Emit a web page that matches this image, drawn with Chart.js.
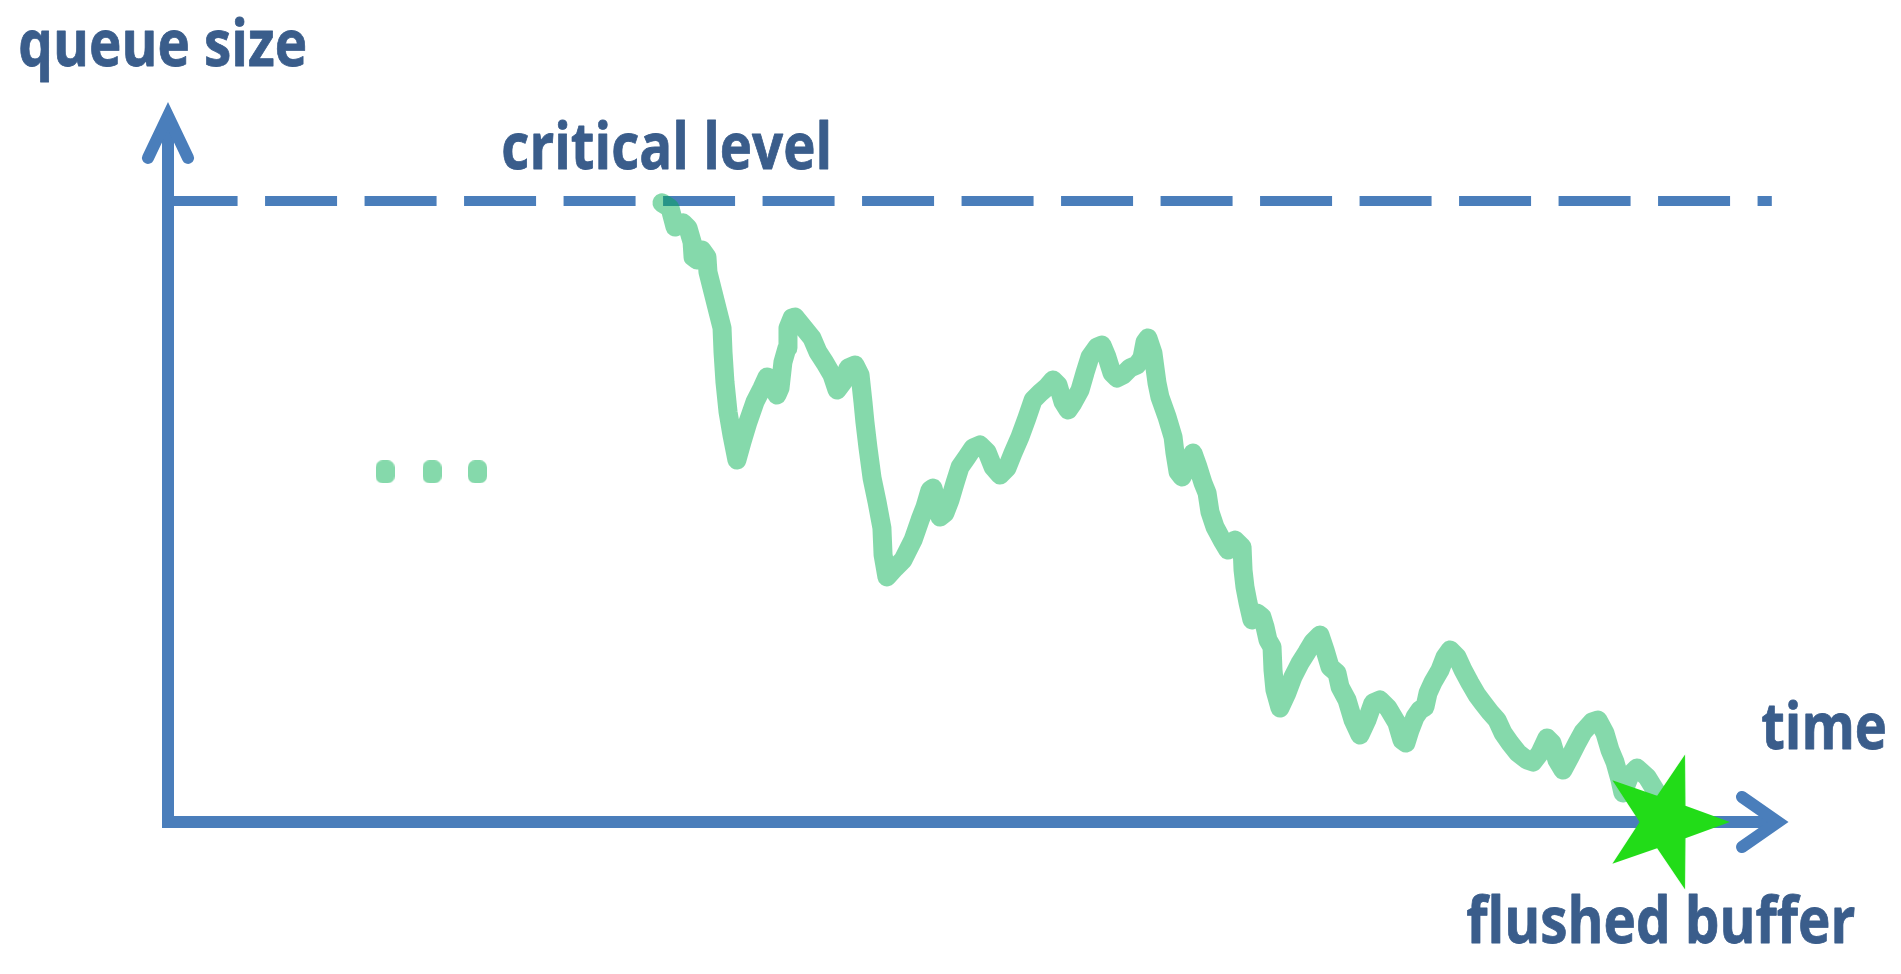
<!DOCTYPE html>
<html><head><meta charset="utf-8">
<script src="https://cdn.jsdelivr.net/npm/chart.js@4.4.1/dist/chart.umd.min.js"></script>
<style>html,body{margin:0;padding:0;background:#fff;overflow:hidden}canvas{display:block}</style>
</head><body>
<canvas id="c" width="1901" height="974"></canvas>
<script>
// ---- data ----
const timeValues = [30.49,30.99,31.30,31.79,32.10,32.35,32.41,32.65,32.96,33.27,
33.33,33.64,33.95,34.20,34.26,34.38,34.57,34.81,35.12,35.43,
35.80,36.23,36.67,36.98,37.16,37.59,37.78,37.96,38.21,38.27,
38.52,38.70,39.20,39.75,40.12,40.56,40.99,41.30,41.67,41.98,
42.41,42.72,42.90,43.02,43.21,43.46,43.77,44.07,44.14,44.38,
44.88,45.37,45.99,46.42,46.73,47.04,47.22,47.47,47.65,47.96,
48.27,48.58,48.89,49.32,49.69,50.12,50.56,50.93,51.36,51.79,
52.16,52.59,53.02,53.40,53.83,54.26,54.63,54.94,55.25,55.56,
55.86,56.30,56.60,56.91,57.35,57.65,57.96,58.27,58.58,58.95,
59.38,59.81,60.12,60.31,60.49,60.80,61.05,61.23,61.67,62.04,
62.16,62.35,62.59,62.90,63.27,63.58,63.89,64.14,64.32,64.63,
65.06,65.43,65.86,66.30,66.36,66.48,66.67,66.91,67.22,67.53,
67.72,67.90,68.15,68.21,68.33,68.64,69.07,69.44,69.88,70.31,
70.68,71.11,71.42,71.73,72.16,72.35,72.78,73.15,73.58,74.01,
74.38,74.81,75.31,75.86,76.17,76.42,76.67,76.98,77.28,77.59,
77.78,78.09,78.52,78.83,79.14,79.57,79.94,80.37,80.80,81.17,
81.60,82.04,82.41,82.84,83.33,83.89,84.26,84.69,85.12,85.43,
85.74,86.11,86.54,86.98,87.35,87.90,88.27,88.70,89.01,89.32,
89.63,89.81,90.25,90.68,91.30,91.91,92.35];
const queueValues = [99.7,98.87,95.81,96.46,95.65,93.40,90.98,90.50,92.11,90.98,
88.57,85.35,82.13,79.55,75.68,70.85,66.02,62.32,58.29,61.19,
64.41,67.63,69.89,71.66,71.18,68.76,69.89,74.07,76.33,79.55,
81.16,81.32,79.71,77.94,75.68,73.91,71.98,69.57,70.85,73.11,
73.59,71.98,67.63,64.41,60.23,55.39,51.53,47.34,43.00,39.45,
40.90,42.19,45.41,48.63,50.72,53.46,53.78,51.37,49.11,49.76,
51.85,54.59,57.17,58.78,60.23,60.71,59.58,57.17,55.88,57.00,
59.42,62.00,65.06,67.95,69.08,70.05,71.18,70.37,67.63,66.34,
67.47,69.57,72.30,74.88,76.49,76.81,74.88,72.30,71.50,71.98,
73.11,73.59,74.72,77.29,77.94,75.52,70.69,68.44,65.22,62.00,
59.42,56.36,55.56,57.17,59.42,57.17,54.59,52.98,49.92,47.50,
45.41,43.80,45.41,44.28,40.58,37.84,35.27,32.53,33.66,33.01,
31.40,29.31,28.18,24.48,21.26,18.36,20.77,23.35,25.60,27.38,
28.99,30.11,27.70,24.96,23.99,21.74,19.65,16.43,14.01,16.43,
19.16,19.65,18.36,15.94,13.20,12.72,14.81,16.91,18.04,18.52,
20.77,22.54,24.48,26.57,27.70,26.57,24.48,22.38,20.45,19.16,
17.71,16.43,14.33,12.72,11.11,9.98,9.66,11.11,13.53,12.72,
9.98,8.37,10.47,12.72,14.49,16.10,16.43,14.33,11.59,9.66,
6.76,4.67,7.57,8.70,7.25,4.67,2.74];
const criticalLevel = 100;
const criticalSpan = [-0.15, 99.0];
const ellipsisTimes = [13.4, 16.3, 19.1];
const ellipsisLevel = 56.4;
const flushTime = 92.4;
const flushLevel = 0;
const yAxisTitle = 'queue size';
const xAxisTitle = 'time';
const criticalTitle = 'critical level';
const flushTitle = 'flushed buffer';

// ---- styles ----
const AXIS_COLOR = '#4A7EBB';
const TEXT_COLOR = '#3A5D8B';
const CURVE_COLOR = 'rgba(0,176,80,0.48)';
const STAR_COLOR = '#22DC18';
const FONT_FAMILY = '"Open Sans", "Noto Sans", sans-serif';

function makeStar(rx, ry, ratio, color) {
  const c = document.createElement('canvas');
  const w = Math.ceil(rx * 2 + 4), h = Math.ceil(ry * 2 + 4);
  c.width = w; c.height = h;
  const g = c.getContext('2d');
  g.translate(w / 2, h / 2);
  g.beginPath();
  for (let i = 0; i < 10; i++) {
    const a = i * Math.PI / 5;
    const r = i % 2 === 0 ? 1 : ratio;
    g.lineTo(Math.cos(a) * rx * r, Math.sin(a) * ry * r);
  }
  g.closePath();
  g.fillStyle = color;
  g.fill();
  return c;
}
function makeDot(w, h, r, color) {
  const c = document.createElement('canvas');
  c.width = w; c.height = h;
  const g = c.getContext('2d');
  g.beginPath();
  g.roundRect(0, 0, w, h, r);
  g.fillStyle = color;
  g.fill();
  return c;
}

const arrowAxes = {
  id: 'arrowAxes',
  beforeDatasetsDraw(chart) {
    const { ctx, scales: { x, y } } = chart;
    const ox = x.getPixelForValue(0), oy = y.getPixelForValue(0);
    const yTip = y.getPixelForValue(115.8), xTip = x.getPixelForValue(100);
    ctx.save();
    ctx.strokeStyle = AXIS_COLOR;
    ctx.lineWidth = 12;
    ctx.lineJoin = 'miter';
    ctx.lineCap = 'butt';
    ctx.beginPath();
    ctx.moveTo(ox, yTip + 14);
    ctx.lineTo(ox, oy);
    ctx.lineTo(xTip - 10, oy);
    ctx.stroke();
    ctx.lineCap = 'round';
    ctx.beginPath();
    ctx.moveTo(ox - 20, yTip + 55);
    ctx.lineTo(ox, yTip + 13);
    ctx.lineTo(ox + 20, yTip + 55);
    ctx.stroke();
    ctx.beginPath();
    ctx.moveTo(xTip - 46, oy - 25);
    ctx.lineTo(xTip - 10, oy);
    ctx.lineTo(xTip - 46, oy + 25);
    ctx.stroke();
    ctx.restore();
  }
};

function drawLabel(ctx, text, left, right, baseline, lHeight) {
  ctx.save();
  if ('letterSpacing' in ctx) ctx.letterSpacing = '0.01px';
  ctx.font = '700 100px ' + FONT_FAMILY;
  const asc = ctx.measureText('l').actualBoundingBoxAscent;
  const size = 100 * lHeight / asc;
  ctx.font = '700 ' + size.toFixed(2) + 'px ' + FONT_FAMILY;
  const m = ctx.measureText(text);
  const w = m.actualBoundingBoxLeft + m.actualBoundingBoxRight;
  ctx.translate(left, baseline);
  ctx.scale((right - left) / w, 1);
  ctx.fillStyle = TEXT_COLOR;
  ctx.strokeStyle = TEXT_COLOR;
  ctx.lineWidth = 0.8;
  ctx.lineJoin = 'round';
  ctx.textBaseline = 'alphabetic';
  ctx.textAlign = 'left';
  ctx.fillText(text, m.actualBoundingBoxLeft, 0);
  ctx.strokeText(text, m.actualBoundingBoxLeft, 0);
  ctx.restore();
}
const labels = {
  id: 'labels',
  afterDraw(chart) {
    const ctx = chart.ctx;
    drawLabel(ctx, yAxisTitle, 20, 305, 66, 49);
    drawLabel(ctx, criticalTitle, 503, 828, 169, 50);
    drawLabel(ctx, xAxisTitle, 1762, 1885, 749, 50);
    drawLabel(ctx, flushTitle, 1467, 1855, 943, 50);
  }
};

const curve = timeValues.map((t, i) => ({ x: t, y: queueValues[i] }));

new Chart(document.getElementById('c'), {
  type: 'scatter',
  data: {
    datasets: [
      {
        data: [{ x: flushTime, y: flushLevel }],
        pointStyle: makeStar(65, 71, 0.39, STAR_COLOR),
        pointRadius: 10, order: 0, clip: false
      },
      {
        data: curve, showLine: true, borderColor: CURVE_COLOR, borderWidth: 19,
        borderJoinStyle: 'round', borderCapStyle: 'round', pointRadius: 0,
        tension: 0, order: 1, clip: false
      },
      {
        data: ellipsisTimes.map(t => ({ x: t, y: ellipsisLevel })),
        pointStyle: makeDot(19, 23, 7, CURVE_COLOR),
        pointRadius: 10, order: 1, clip: false
      },
      {
        data: criticalSpan.map(t => ({ x: t, y: criticalLevel })),
        showLine: true, borderColor: AXIS_COLOR, borderWidth: 10,
        borderDash: [72, 27.5], borderCapStyle: 'butt', pointRadius: 0,
        order: 2, clip: false
      }
    ]
  },
  options: {
    responsive: false, animation: false, devicePixelRatio: 1,
    layout: { padding: { left: 168, right: 113, top: 201, bottom: 152 } },
    scales: {
      x: { type: 'linear', min: 0, max: 100, display: false },
      y: { type: 'linear', min: 0, max: 100, display: false }
    },
    plugins: { legend: { display: false }, tooltip: { enabled: false } },
    events: []
  },
  plugins: [arrowAxes, labels]
});
</script>
</body></html>
